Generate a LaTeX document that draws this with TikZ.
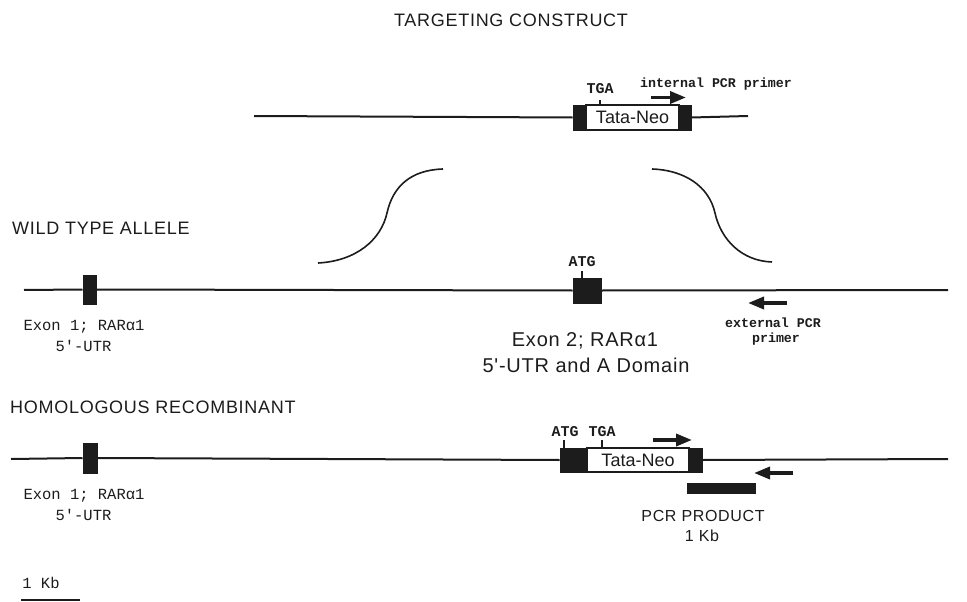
\documentclass[tikz,border=0pt]{standalone}
\usepackage{fontspec}
\setmainfont{Liberation Sans}[Ligatures=TeXOff]
\newfontfamily\headfont{Liberation Sans}[LetterSpace=4,Ligatures=TeXOff]
\newfontfamily\monofont{Liberation Mono}[Ligatures=TeXOff]
\usetikzlibrary{arrows.meta}

\definecolor{ink}{RGB}{28,28,28}

\begin{document}
\begin{tikzpicture}[x=1pt,y=-1pt,
  dna/.style={draw=ink, line width=2pt},
  blk/.style={draw=ink, fill=ink, line width=1pt, inner sep=0pt},
  neobox/.style={draw=ink, fill=white, line width=1.2pt, inner sep=0pt,
    text=ink, font=\fontsize{18}{20}\selectfont},
  tickmark/.style={draw=ink, line width=1.5pt},
  primer/.style={draw=ink, line width=3.5pt,
    -{Triangle[length=16pt,width=12pt]}},
  heading/.style={inner sep=0pt, text=ink, font=\headfont\fontsize{18}{20}\selectfont},
  exontxt/.style={inner sep=0pt, text=ink, font=\headfont\fontsize{20}{22}\selectfont},
  pcrtxt/.style={inner sep=0pt, text=ink, font=\headfont\fontsize{16}{18}\selectfont},
  monolbl/.style={inner sep=0pt, text=ink, font=\monofont\fontsize{15.5}{17}\selectfont},
  codon/.style={inner sep=0pt, text=ink, font=\monofont\bfseries\fontsize{15}{17}\selectfont},
  primerlbl/.style={inner sep=0pt, text=ink, font=\monofont\bfseries\fontsize{13.3}{15}\selectfont},
  arm/.style={draw=ink, line width=1.6pt}
]
\useasboundingbox (0,0) rectangle (967,602);

% ---------------- targeting construct ----------------
\node[heading] (tcTitle) at (511,20) {TARGETING CONSTRUCT};

\coordinate (tcL) at (254,116);
\coordinate (tcR) at (748,116);
\node[blk, minimum width=13, minimum height=25] (tcA) at (579.5,117.5) {};
\node[neobox, minimum width=93, minimum height=25] (tcNeo) at (632.5,117.5) {Tata-Neo};
\node[blk, minimum width=12, minimum height=25] (tcB) at (685,117.5) {};
\draw[dna] (tcL) -- (tcA.west);
\draw[dna] (tcB.east) -- (tcR);

\coordinate (tcTgaA) at (600,106);
\coordinate (tcTgaB) at (600,100);
\draw[tickmark] (tcTgaA) -- (tcTgaB);
\node[codon] (tcTga) at (600,89) {TGA};

\coordinate (ipA) at (651,97.5);
\coordinate (ipB) at (686,97.5);
\draw[primer] (ipA) -- (ipB);
\node[primerlbl] (ipLbl) at (716,84) {internal PCR primer};

% homology arms
\coordinate (lA) at (318,263);
\coordinate (lM) at (387,213);
\coordinate (lB) at (443,169);
\draw[arm] (lA) .. controls (356,261) and (381,240) .. (lM)
                .. controls (393,186) and (411,170) .. (lB);
\coordinate (rA) at (652,169);
\coordinate (rM) at (715,213);
\coordinate (rB) at (772,262);
\draw[arm] (rA) .. controls (684,170) and (709,186) .. (rM)
                .. controls (721,240) and (742,261) .. (rB);

% ---------------- wild type allele ----------------
\node[heading, anchor=west] (wtTitle) at (12,228) {WILD TYPE ALLELE};

\coordinate (wtL) at (24,290);
\coordinate (wtR) at (948,290);
\node[blk, minimum width=13, minimum height=29] (wtE1) at (89.5,289.5) {};
\node[blk, minimum width=28, minimum height=25] (wtE2) at (587,290.5) {};
\draw[dna] (wtL) -- (wtE1.west);
\draw[dna] (wtE1.east) -- (wtE2.west);
\draw[dna] (wtE2.east) -- (wtR);

\coordinate (wtAtgA) at (582,278);
\coordinate (wtAtgB) at (582,271);
\draw[tickmark] (wtAtgA) -- (wtAtgB);
\node[codon] (wtAtg) at (582,262) {ATG};

\node[monolbl] (wtE1a) at (84,327) {Exon 1; RARα1};
\node[monolbl] (wtE1b) at (83.5,346) {5'-UTR};

\node[exontxt] (wtE2a) at (585,341) {Exon 2; RARα1};
\node[exontxt] (wtE2b) at (586,365) {5'-UTR and A Domain};

\coordinate (epA) at (787,303);
\coordinate (epB) at (748,303);
\draw[primer] (epA) -- (epB);
\node[primerlbl] (epLbl1) at (773,323) {external PCR};
\node[primerlbl] (epLbl2) at (776,339) {primer};

% ---------------- homologous recombinant ----------------
\node[heading, anchor=west] (hrTitle) at (10,407) {HOMOLOGOUS RECOMBINANT};

\coordinate (hrL) at (11,459);
\coordinate (hrR) at (948,459);
\node[blk, minimum width=14, minimum height=30] (hrE1) at (90,458) {};
\node[blk, minimum width=27, minimum height=24] (hrA) at (573.5,460) {};
\node[neobox, minimum width=102, minimum height=24] (hrNeo) at (638,460) {Tata-Neo};
\node[blk, minimum width=13, minimum height=24] (hrB) at (695.5,460) {};
\draw[dna] (hrL) -- (hrE1.west);
\draw[dna] (hrE1.east) -- (hrA.west);
\draw[dna] (hrB.east) -- (hrR);

\coordinate (hrAtgA) at (564,448);
\coordinate (hrAtgB) at (564,440);
\draw[tickmark] (hrAtgA) -- (hrAtgB);
\node[codon] (hrAtg) at (565,432) {ATG};
\coordinate (hrTgaA) at (602,448);
\coordinate (hrTgaB) at (602,440);
\draw[tickmark] (hrTgaA) -- (hrTgaB);
\node[codon] (hrTga) at (602,432) {TGA};

\coordinate (hpA) at (653,440);
\coordinate (hpB) at (692,440);
\draw[primer] (hpA) -- (hpB);
\coordinate (hqA) at (793,473);
\coordinate (hqB) at (754,473);
\draw[primer] (hqA) -- (hqB);

\node[blk, minimum width=68, minimum height=10] (pcrBar) at (721,488) {};
\node[pcrtxt] (pcrLbl1) at (703,516) {PCR PRODUCT};
\node[pcrtxt] (pcrLbl2) at (702,536) {1 Kb};

\node[monolbl] (hrE1a) at (84,496) {Exon 1; RARα1};
\node[monolbl] (hrE1b) at (83.5,515) {5'-UTR};

% ---------------- scale bar ----------------
\node[monolbl] (kbLbl) at (41,583) {1 Kb};
\coordinate (kbA) at (21,600);
\coordinate (kbB) at (80,600);
\draw[draw=ink, line width=1.5pt] (kbA) -- (kbB);
\end{tikzpicture}
\end{document}
